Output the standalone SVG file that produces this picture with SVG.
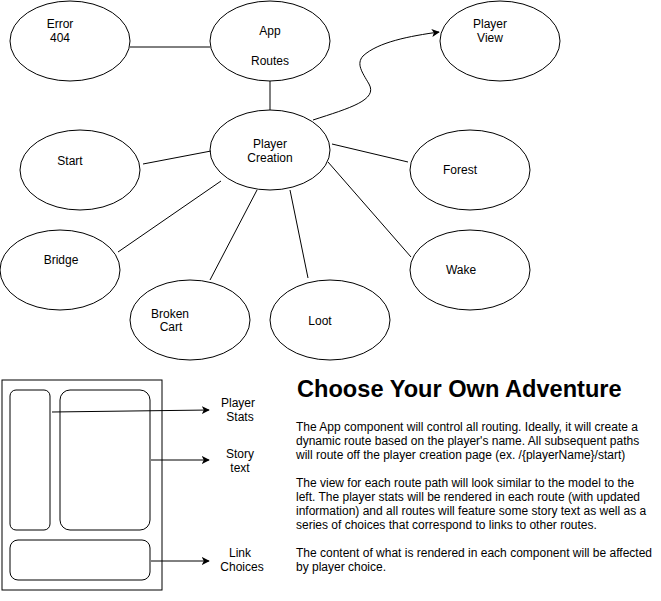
<svg xmlns="http://www.w3.org/2000/svg" width="661" height="601" viewBox="0 0 661 601">
<style>
.n{fill:#fff;stroke:#000;stroke-width:1}
.m{fill:none;stroke:#000;stroke-width:1}
.c{fill:none;stroke:#000;stroke-width:1}
.t{font-family:"Liberation Sans",Arial,Helvetica,sans-serif;font-size:12px;fill:#000;text-anchor:middle}
.b{font-family:"Liberation Sans",Arial,Helvetica,sans-serif;font-size:12px;fill:#000}
.h{font-family:"Liberation Sans",Arial,Helvetica,sans-serif;font-size:23.6px;font-weight:bold;fill:#000}
</style>
<defs>
<marker id="a" viewBox="0 0 10 10" refX="9" refY="5" markerWidth="8" markerHeight="8" markerUnits="userSpaceOnUse" orient="auto">
<path d="M0,0 L10,5 L0,10 L2.5,5 Z" fill="#000"/>
</marker>
</defs>
<rect width="661" height="601" fill="#fff"/>
<g id="error404"><ellipse class="n" cx="70" cy="41" rx="60" ry="40"/><text class="t" x="60" y="28">Error</text><text class="t" x="60" y="42">404</text></g>
<g id="app"><ellipse class="n" cx="270" cy="41" rx="60" ry="40"/><text class="t" x="270" y="35">App</text><text class="t" x="270" y="65">Routes</text></g>
<g id="playerView"><ellipse class="n" cx="500" cy="41" rx="60" ry="40"/><text class="t" x="490" y="28">Player</text><text class="t" x="490" y="42">View</text></g>
<g id="playerCreation"><ellipse class="n" cx="270" cy="150" rx="60" ry="40"/><text class="t" x="270" y="148">Player</text><text class="t" x="270" y="162">Creation</text></g>
<g id="start"><ellipse class="n" cx="80" cy="170" rx="60" ry="40"/><text class="t" x="70" y="165">Start</text></g>
<g id="forest"><ellipse class="n" cx="470" cy="170" rx="60" ry="40"/><text class="t" x="460" y="174">Forest</text></g>
<g id="bridge"><ellipse class="n" cx="60" cy="270" rx="60" ry="40"/><text class="t" x="61" y="264">Bridge</text></g>
<g id="wake"><ellipse class="n" cx="470" cy="270" rx="60" ry="40"/><text class="t" x="461" y="274">Wake</text></g>
<g id="brokenCart"><ellipse class="n" cx="190" cy="320" rx="60" ry="40"/><text class="t" x="170" y="318">Broken</text><text class="t" x="171" y="331">Cart</text></g>
<g id="loot"><ellipse class="n" cx="330" cy="320" rx="60" ry="40"/><text class="t" x="320" y="325">Loot</text></g>
<g id="model">
<rect class="m" x="2" y="380" width="160" height="210"/>
<rect class="m" x="10" y="390" width="40" height="140" rx="6"/>
<rect class="m" x="60" y="390" width="90" height="140" rx="10"/>
<rect class="m" x="10" y="540" width="140" height="40" rx="8"/>
</g>
<g id="labels">
<text class="t" x="238" y="407">Player</text><text class="t" x="240" y="421">Stats</text>
<text class="t" x="240" y="458">Story</text><text class="t" x="240" y="472">text</text>
<text class="t" x="240" y="557">Link</text><text class="t" x="242" y="571">Choices</text>
</g>
<g id="description">
<text class="h" x="297" y="397">Choose Your Own Adventure</text>
<text class="b" x="296" y="431">The App component will control all routing. Ideally, it will create a</text>
<text class="b" x="296" y="445">dynamic route based on the player's name. All subsequent paths</text>
<text class="b" x="296" y="459">will route off the player creation page (ex. /{playerName}/start)</text>
<text class="b" x="296" y="487">The view for each route path will look similar to the model to the</text>
<text class="b" x="296" y="501">left. The player stats will be rendered in each route (with updated</text>
<text class="b" x="296" y="515">information) and all routes will feature some story text as well as a</text>
<text class="b" x="296" y="529">series of choices that correspond to links to other routes.</text>
<text class="b" x="296" y="557">The content of what is rendered in each component will be affected</text>
<text class="b" x="296" y="571">by player choice.</text>
</g>
<g id="connectors">
<line class="c" x1="130" y1="47" x2="210" y2="47"/>
<line class="c" x1="270" y1="81" x2="270" y2="110"/>
<line class="c" x1="143" y1="164" x2="211" y2="151"/>
<line class="c" x1="332" y1="144" x2="408" y2="162"/>
<line class="c" x1="328" y1="162" x2="411" y2="257"/>
<line class="c" x1="290" y1="190" x2="308" y2="278"/>
<line class="c" x1="257" y1="190" x2="210" y2="280"/>
<line class="c" x1="221" y1="181" x2="118" y2="252"/>
<path class="c" d="M313 120 C350 108 378 100 369 84 C362 72 356 64 363 56 C378 42 410 36 439 32" marker-end="url(#a)"/>
<line class="c" x1="52" y1="412" x2="209" y2="410" marker-end="url(#a)"/>
<line class="c" x1="151" y1="460" x2="209" y2="460" marker-end="url(#a)"/>
<line class="c" x1="151" y1="561" x2="209" y2="561" marker-end="url(#a)"/>
</g>
</svg>
